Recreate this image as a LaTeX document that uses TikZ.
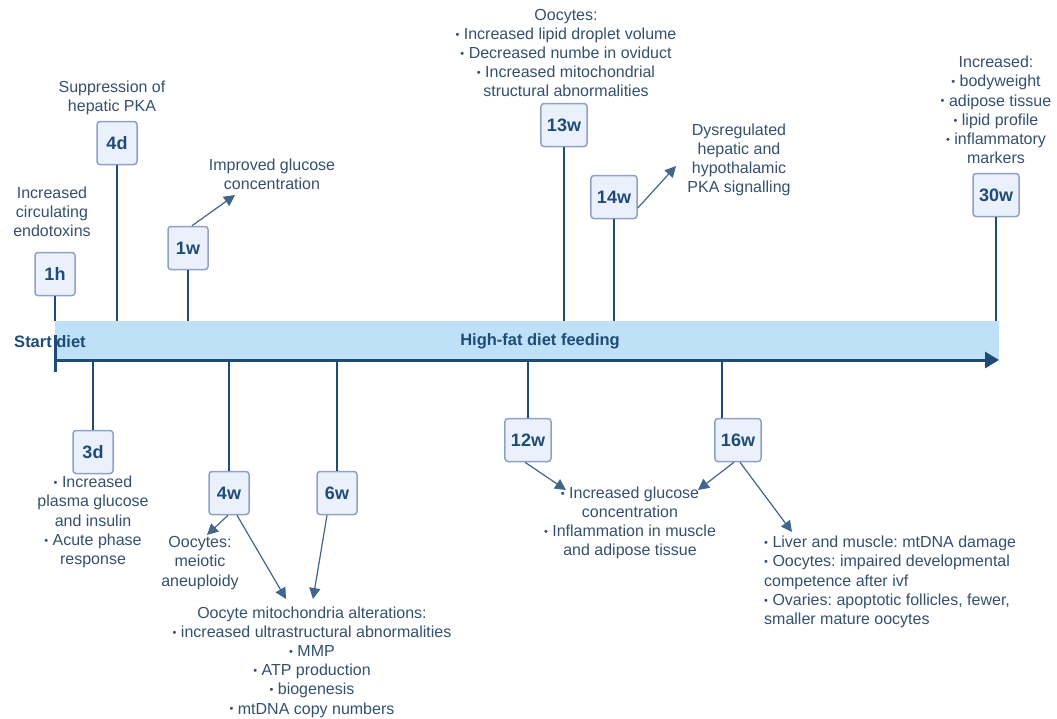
\documentclass[tikz,border=0pt]{standalone}
\usepackage{fontspec}
\setmainfont{Liberation Sans}
\usetikzlibrary{arrows.meta}
\definecolor{txt}{HTML}{34506E}
\definecolor{navy}{HTML}{1F4B78}
\definecolor{barblue}{HTML}{BFE1F7}
\definecolor{boxfill}{HTML}{EAF1FB}
\definecolor{boxline}{HTML}{8FA2C6}
\newcommand{\bul}{{\fontsize{11}{11}\selectfont\raisebox{1.2pt}{•}}\ }
\frenchspacing
\begin{document}
\begin{tikzpicture}[x=1pt,y=-1pt,
  lbl/.style={text=txt,font=\fontsize{16}{19.2}\selectfont,align=center,inner sep=0},
  tbox/.style={draw=boxline,fill=boxfill,line width=1.5,rounded corners=3,
    minimum width=40,minimum height=43,inner xsep=6,text=navy,
    font=\fontsize{18}{20}\selectfont\bfseries},
  stem/.style={draw=navy,line width=2.2},
  pointer/.style={draw=navy!85!white,line width=1.2,-{Triangle[length=11,width=11]}},
  axis/.style={draw=navy,line width=3,-{Triangle[length=14,width=16]}},
  bartext/.style={text=navy,font=\fontsize{16.5}{18}\selectfont\bfseries,inner sep=0}]
\useasboundingbox (0,0) rectangle (1057,718);
% bar
\node[fill=barblue,inner sep=0,minimum width=944,minimum height=39,anchor=north west] (bar) at (55,321) {};
\coordinate (axS) at (55,360);
\coordinate (axE) at (999,360);
\draw[axis] (axS) -- (axE);
\coordinate (tickT) at (55,335);
\coordinate (tickB) at (55,372);
\draw[navy,line width=3] (tickT) -- (tickB);
\node[bartext] (start) at (50,342) {Start diet};
\node[bartext] (hf) at (540,341) {High-fat diet feeding};

% upper boxes
\node[tbox] (b1h) at (55,274) {1h};
\node[tbox] (b4d) at (117,143) {4d};
\node[tbox] (b1w) at (188,248) {1w};
\node[tbox] (b13w) at (564,125) {13w};
\node[tbox] (b14w) at (614,197) {14w};
\node[tbox] (b30w) at (996,195) {30w};
\foreach \b in {b1h,b4d,b1w,b13w,b14w,b30w}
  \draw[stem] (\b.south) -- (\b.south |- bar.north);

% upper labels
\node[lbl] (l1h) at (52,212) {Increased\\circulating\\endotoxins};
\node[lbl] (l4d) at (112,98) {Suppression of\\hepatic PKA};
\node[lbl] (l1w) at (272,174) {Improved glucose\\concentration};
\node[lbl] (l13w) at (566,53) {Oocytes:\\\bul Increased lipid droplet volume\\\bul Decreased numbe in oviduct\\\bul Increased mitochondrial\\structural abnormalities};
\node[lbl] (l14w) at (739,160) {Dysregulated\\hepatic and\\hypothalamic\\PKA signalling};
\node[lbl] (l30w) at (996,110) {Increased:\\\bul bodyweight\\\bul adipose tissue\\\bul lipid profile\\\bul inflammatory\\markers};

\coordinate (e1w) at (235,195);
\draw[pointer] ([xshift=4]b1w.north) -- (e1w);
\coordinate (e14w) at (676,166);
\draw[pointer] ([yshift=-11]b14w.east) -- (e14w);

% lower boxes
\node[tbox] (b3d) at (93,452) {3d};
\node[tbox] (b4w) at (229,493) {4w};
\node[tbox] (b6w) at (337,493) {6w};
\node[tbox] (b12w) at (528,440) {12w};
\node[tbox] (b16w) at (738,440) {16w};
\foreach \b in {b3d,b4w,b6w,b12w}
  \draw[stem] (\b.north) -- (\b.north |- axS);
\coordinate (s16) at (722,418);
\draw[stem] (s16) -- (s16 |- axS);

% lower labels
\node[lbl] (l3d) at (93,522) {\bul Increased\\plasma glucose\\and insulin\\\bul Acute phase\\response};
\node[lbl] (l4w) at (200,563) {Oocytes:\\meiotic\\aneuploidy};
\node[lbl] (lmito) at (312,662) {Oocyte mitochondria alterations:\\\bul increased ultrastructural abnormalities\\\bul MMP\\\bul ATP production\\\bul biogenesis\\\bul mtDNA copy numbers};
\node[lbl] (l12w) at (630,523) {\bul Increased glucose\\concentration\\\bul Inflammation in muscle\\and adipose tissue};
\node[lbl,align=left,anchor=west] (l16w) at (764,582) {\bul Liver and muscle: mtDNA damage\\\bul Oocytes: impaired developmental\\competence after ivf\\\bul Ovaries: apoptotic follicles, fewer,\\smaller mature oocytes};

\coordinate (e4wa) at (207,535);
\coordinate (e4wb) at (286,599);
\coordinate (e6w) at (313,599);
\coordinate (e12w) at (566,490);
\coordinate (e16a) at (698,490);
\coordinate (e16b) at (792,532);
\draw[pointer] ([xshift=-1]b4w.south) -- (e4wa);
\draw[pointer] ([xshift=8]b4w.south) -- (e4wb);
\draw[pointer] ([xshift=-10]b6w.south) -- (e6w);
\draw[pointer] ([xshift=-3]b12w.south) -- (e12w);
\draw[pointer] ([xshift=-4]b16w.south) -- (e16a);
\draw[pointer] ([xshift=2]b16w.south) -- (e16b);
\end{tikzpicture}
\end{document}
